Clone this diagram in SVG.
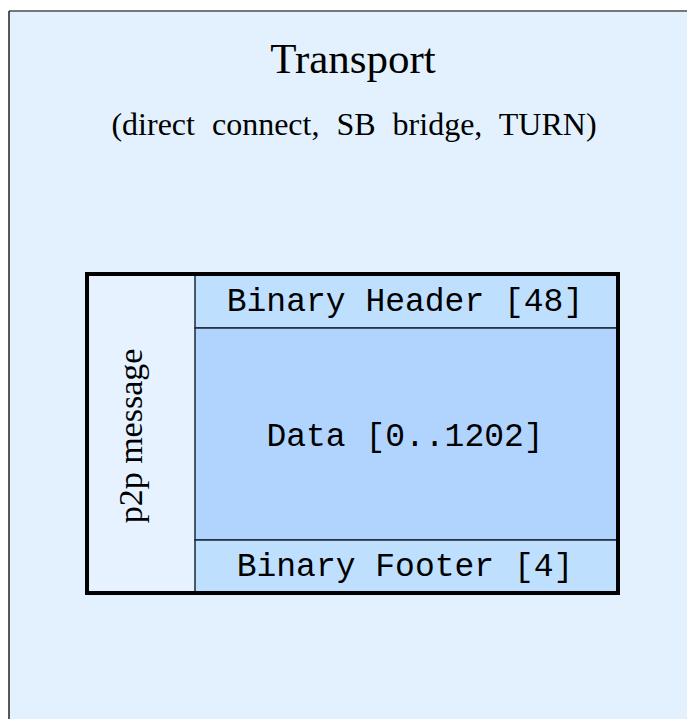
<svg xmlns="http://www.w3.org/2000/svg" width="687" height="719" viewBox="0 0 687 719">
<style>
.serif{font-family:"Liberation Serif","Times New Roman",serif;fill:#000}
.mono{font-family:"Liberation Mono","Courier New",monospace;font-size:33px;fill:#000;text-anchor:middle}
.cell{stroke:#1a2a3a;stroke-width:1.5}
</style>
<g id="transport">
<rect x="9" y="11" width="690" height="720" fill="#E3F1FE"/>
<line x1="9" y1="11" x2="687" y2="11" stroke="#777" stroke-width="2"/>
<line x1="9" y1="11" x2="9" y2="719" stroke="#222" stroke-width="1.5"/>
<text class="serif" x="353" y="73" font-size="43" text-anchor="middle">Transport</text>
<text class="serif" x="354" y="135" font-size="32" text-anchor="middle" word-spacing="9">(direct connect, SB bridge, TURN)</text>
</g>
<g id="p2p-message">
<rect x="87" y="274" width="108" height="319" fill="#E6F2FF"/>
<text class="serif" transform="translate(142 436) rotate(-90)" font-size="34" text-anchor="middle">p2p message</text>
</g>
<g id="binary-header">
<rect class="cell" x="195" y="274" width="423" height="54" fill="#BFDFFF"/>
<text class="mono" x="405" y="311">Binary Header [48]</text>
</g>
<g id="data">
<rect class="cell" x="195" y="328" width="423" height="212" fill="#B0D4FE"/>
<text class="mono" x="405" y="446">Data [0..1202]</text>
</g>
<g id="binary-footer">
<rect class="cell" x="195" y="540" width="423" height="53" fill="#BFDFFF"/>
<text class="mono" x="405" y="576">Binary Footer [4]</text>
</g>
<g id="connectors">
<rect x="87" y="274" width="531" height="319" fill="none" stroke="#000" stroke-width="4"/>
</g>
</svg>
